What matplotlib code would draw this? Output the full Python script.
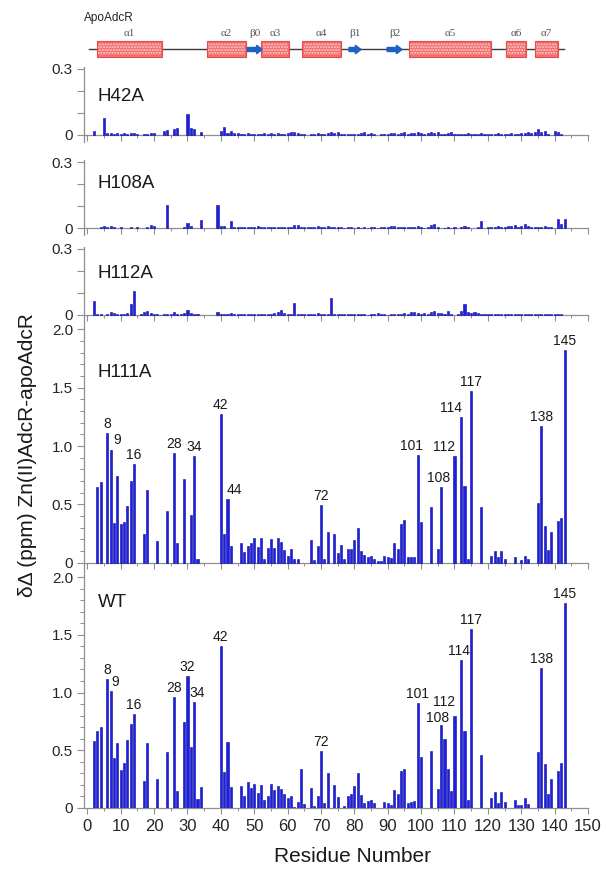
import matplotlib
matplotlib.use('Agg')
import matplotlib.pyplot as plt
import numpy as np
from matplotlib.patches import Rectangle, FancyArrow
from matplotlib.ticker import MultipleLocator

plt.rcParams['font.family'] = ['Liberation Sans', 'DejaVu Sans']

# ---------------- data ----------------
positions = list(range(1, 144))          # plotted position (residue number - 2)
RES_OFFSET = 2
x_ticks = list(range(0, 151, 10))

wt = [0, 0.58, 0.67, 0.70, 0, 1.12, 1.01, 0.43, 0.565, 0.33,
      0.385, 0.59, 0.73, 0.81, 0, 0, 0.235, 0.56, 0, 0,
      0.25, 0, 0, 0.48, 0, 0.96, 0.145, 0, 0.745, 1.145,
      0.525, 0.92, 0.075, 0.18, 0, 0, 0, 0, 0, 1.40,
      0.31, 0.57, 0.18, 0, 0, 0.19, 0.10, 0.225, 0.175, 0.205,
      0.13, 0.195, 0.065, 0.105, 0.21, 0.155, 0.19, 0.165, 0.12, 0.08,
      0.105, 0.01, 0.05, 0.335, 0.03, 0, 0.175, 0.015, 0.10, 0.49,
      0.04, 0.30, 0, 0.20, 0.09, 0, 0.015, 0.105, 0.12, 0.19,
      0.30, 0.11, 0.04, 0.06, 0.07, 0.04, 0, 0, 0.05, 0.045,
      0.02, 0.155, 0.12, 0.32, 0.34, 0.045, 0.05, 0.06, 0.91, 0.44,
      0, 0, 0.49, 0, 0.16, 0.715, 0.60, 0.335, 0.145, 0.80,
      0, 1.28, 0.67, 0.065, 1.55, 0, 0, 0.455, 0, 0,
      0.08, 0.135, 0.045, 0.135, 0.05, 0, 0, 0.065, 0.02, 0.02,
      0.08, 0.03, 0, 0, 0.48, 1.21, 0.38, 0.12, 0.25, 0,
      0.315, 0.39, 1.78]

h111a = [0, 0, 0.65, 0.69, 0, 1.11, 0.97, 0.34, 0.74, 0.33,
         0.35, 0.49, 0.70, 0.845, 0, 0, 0.245, 0.62, 0, 0,
         0.19, 0, 0, 0.44, 0, 0.94, 0.165, 0, 0.72, 0,
         0.405, 0.915, 0.035, 0, 0, 0, 0, 0, 0, 1.27,
         0.245, 0.545, 0.145, 0, 0, 0.165, 0.095, 0.145, 0.17, 0.21,
         0.135, 0.21, 0.035, 0.125, 0.20, 0.13, 0.21, 0.18, 0.11, 0.06,
         0.115, 0.03, 0.03, 0, 0, 0, 0.195, 0.02, 0.14, 0.495,
         0.035, 0.26, 0, 0.245, 0.085, 0.15, 0.03, 0.12, 0.115, 0.195,
         0.30, 0.10, 0.07, 0.045, 0.06, 0.035, 0.015, 0.015, 0.06, 0.045,
         0.04, 0.17, 0.12, 0.33, 0.365, 0.05, 0.045, 0.05, 0.92, 0.35,
         0, 0, 0.48, 0, 0.12, 0.645, 0, 0, 0, 0.915,
         0, 1.25, 0.66, 0.035, 1.47, 0, 0, 0.48, 0, 0,
         0.055, 0.10, 0.045, 0.10, 0.03, 0, 0, 0.045, 0, 0.02,
         0.055, 0.035, 0, 0, 0.51, 1.17, 0.315, 0.11, 0.26, 0,
         0.355, 0.385, 1.82]

h42a = [0, 0.020, 0, 0, 0.075, 0.010, 0.008, 0.006, 0.008, 0.005,
        0.008, 0.006, 0.007, 0.010, 0.004, 0, 0.004, 0.006, 0.008, 0.010,
        0, 0, 0.020, 0.022, 0, 0.025, 0.030, 0, 0, 0.095,
        0.030, 0.028, 0, 0.015, 0, 0, 0, 0, 0, 0.018,
        0.035, 0.010, 0.018, 0.008, 0.010, 0.006, 0.004, 0.008, 0.005, 0.006,
        0.003, 0.006, 0.010, 0.004, 0.008, 0.006, 0.008, 0.004, 0.005, 0.008,
        0.012, 0.015, 0.010, 0.004, 0.003, 0, 0.004, 0.006, 0.008, 0.006,
        0.004, 0.008, 0.012, 0.010, 0.012, 0.004, 0.006, 0.003, 0.005, 0.006,
        0.004, 0.010, 0.012, 0.006, 0.008, 0.004, 0, 0.006, 0.004, 0.003,
        0.008, 0.010, 0.006, 0.008, 0.012, 0.005, 0.008, 0.010, 0.012, 0.008,
        0.006, 0.010, 0.012, 0.008, 0.015, 0.006, 0.004, 0.008, 0.012, 0.004,
        0.003, 0.005, 0.006, 0.010, 0.004, 0.003, 0.005, 0.008, 0.004, 0.003,
        0.006, 0.005, 0.008, 0.004, 0.003, 0.006, 0.008, 0.005, 0.004, 0.008,
        0.010, 0.015, 0.008, 0.015, 0.028, 0.012, 0.020, 0.004, 0, 0.020,
        0.015, 0.004, 0]

h108a = [0, 0, 0, 0.006, 0.008, 0.006, 0.008, 0.005, 0, 0.005,
         0, 0, 0.003, 0, 0.003, 0, 0, 0.004, 0.015, 0.008,
         0, 0, 0, 0.105, 0, 0, 0, 0, 0.004, 0.022,
         0.008, 0, 0, 0.035, 0, 0, 0, 0, 0.103, 0.010,
         0.008, 0, 0.030, 0.004, 0.003, 0.005, 0.003, 0.004, 0.006, 0.003,
         0.008, 0.004, 0.003, 0.005, 0.006, 0.004, 0.003, 0.005, 0.006, 0.004,
         0.006, 0.012, 0.012, 0.005, 0.003, 0.004, 0.006, 0.005, 0.008, 0.006,
         0.005, 0.008, 0.006, 0.005, 0.004, 0.003, 0.002, 0.003, 0.004, 0.002,
         0.003, 0.002, 0.003, 0.002, 0.004, 0.003, 0.002, 0.004, 0.006, 0.004,
         0.008, 0.010, 0.006, 0.004, 0.003, 0.005, 0.004, 0.006, 0.010, 0.003,
         0.002, 0.004, 0.015, 0.017, 0.003, 0, 0.002, 0.003, 0.002, 0.004,
         0, 0.006, 0.010, 0.003, 0, 0, 0.004, 0.030, 0, 0.003,
         0.003, 0.005, 0.008, 0.004, 0.006, 0.008, 0.010, 0.015, 0.006, 0.008,
         0.020, 0.010, 0.006, 0.006, 0.004, 0.005, 0.010, 0.006, 0.004, 0,
         0.040, 0.020, 0.040]

h112a = [0, 0.065, 0.005, 0.003, 0, 0.003, 0.012, 0.008, 0.004, 0.003,
         0.004, 0.010, 0.050, 0.110, 0, 0.004, 0.015, 0.018, 0.010, 0.005,
         0.003, 0.002, 0.004, 0.003, 0.005, 0.012, 0.004, 0.003, 0.008, 0.022,
         0.010, 0.004, 0.003, 0, 0, 0, 0, 0, 0.015, 0.004,
         0.006, 0.005, 0.008, 0.006, 0.005, 0.004, 0.006, 0.005, 0.003, 0.004,
         0.006, 0.005, 0.004, 0.006, 0.003, 0.008, 0.015, 0.022, 0.010, 0.004,
         0.005, 0.055, 0.006, 0.004, 0.005, 0.004, 0.006, 0.004, 0.010, 0.005,
         0.003, 0.004, 0.078, 0.006, 0.005, 0.004, 0.003, 0.004, 0.003, 0.004,
         0.005, 0.003, 0.004, 0.002, 0.003, 0.004, 0.008, 0.006, 0.003, 0.002,
         0.003, 0.004, 0.006, 0.005, 0.008, 0.006, 0.012, 0.015, 0.010, 0.004,
         0.008, 0.004, 0.015, 0.020, 0.008, 0.010, 0.004, 0.020, 0.003, 0,
         0.004, 0.020, 0.050, 0.015, 0.010, 0.012, 0.008, 0.006, 0.004, 0.006,
         0.005, 0.003, 0.004, 0.006, 0.003, 0.005, 0.004, 0.006, 0.003, 0.004,
         0.006, 0.005, 0.003, 0.004, 0.006, 0.005, 0.004, 0.003, 0.004, 0.003,
         0.005, 0.003, 0]

wt_labels = [8, 9, 16, 28, 32, 34, 42, 72, 101, 108, 112, 114, 117, 138, 145]
h111a_labels = [8, 9, 16, 28, 34, 42, 44, 72, 101, 108, 112, 114, 117, 138, 145]

helix_names = ['α1', 'α2', 'α3', 'α4', 'α5', 'α6', 'α7']
helix_start = [2.9, 35.9, 52.1, 64.4, 96.4, 125.4, 134.1]
helix_end = [22.5, 47.6, 60.5, 76.0, 120.9, 131.4, 141.0]
strand_names = ['β0', 'β1', 'β2']
strand_start = [47.9, 78.4, 89.8]
strand_end = [52.4, 82.0, 94.3]

# ---------------- style ----------------
W, H = 606, 871
L_PX, R_PX = 84, 588
BAR = '#1f1fe0'
EDGE = '#0808a8'
GRAY = '#8f8f8f'
TXT = '#262626'

fig = plt.figure(figsize=(W / 100, H / 100), dpi=100)


def rect_for(zero_px, px_per_unit, ymin, ymax):
    top = zero_px - ymax * px_per_unit
    bot = zero_px - ymin * px_per_unit
    return [L_PX / W, 1 - bot / H, (R_PX - L_PX) / W, (bot - top) / H]


panels = [
    # name, values, zero px, px/unit, ylim, labels, label baseline px
    ('H42A', h42a, 135, 220, (-0.03, 0.31), None, 101, 'small'),
    ('H108A', h108a, 228, 220, (-0.03, 0.31), None, 188, 'small'),
    ('H112A', h112a, 315, 220, (-0.03, 0.31), None, 278, 'small'),
    ('H111A', h111a, 562.7, 116.7, (-0.07, 2.05), h111a_labels, 377, 'large'),
    ('WT', wt, 807.7, 115.2, (0, 2.05), wt_labels, 607, 'large'),
]

# (dx in data units, dy in points) nudges for crowded labels
nudges = {
    'H111A': {9: (1.9, 0), 44: (2.1, 0), 101: (-1.8, 0), 108: (-0.8, 0),
              112: (-3.1, 0), 114: (-2.9, 0)},
    'WT': {9: (1.4, 0), 34: (0.8, 0), 108: (-1.0, -1.0), 112: (-3.0, 3.5),
           114: (-0.6, 0)},
}

pos = np.array(positions)
for name, vals, zpx, ppu, ylim, labels, lab_px, kind in panels:
    ax = fig.add_axes(rect_for(zpx, ppu, *ylim))
    ax.set_facecolor('none')
    v = np.array(vals, dtype=float)
    m = v > 0
    ax.bar(pos[m], v[m], width=0.62, color=BAR, edgecolor=EDGE,
           linewidth=0.4, zorder=3)
    ax.set_xlim(-1, 150)
    ax.set_ylim(*ylim)
    for s in ['top', 'right']:
        ax.spines[s].set_visible(False)
    ax.spines['bottom'].set_position(('data', 0))
    for s in ['left', 'bottom']:
        ax.spines[s].set_color(GRAY)
        ax.spines[s].set_linewidth(0.9)
    ax.set_xticks(x_ticks)
    ax.xaxis.set_minor_locator(MultipleLocator(5))
    last = name == 'WT'
    ax.tick_params(axis='x', which='major', direction='out', length=4,
                   width=0.8, color=GRAY, labelbottom=last,
                   labelsize=12, labelcolor=TXT, pad=4)
    ax.tick_params(axis='x', which='minor', direction='out', length=2,
                   width=0.7, color=GRAY)
    if kind == 'small':
        ax.set_yticks([0, 0.1, 0.2, 0.3])
        ax.set_yticklabels(['0', '', '', '0.3'])
    else:
        ax.set_yticks([0, 0.5, 1.0, 1.5, 2.0])
        ax.set_yticklabels(['0', '0.5', '1.0', '1.5', '2.0'])
        ax.yaxis.set_minor_locator(MultipleLocator(0.1))
    ax.tick_params(axis='y', which='major', direction='out', length=5,
                   width=0.8, color=GRAY, labelsize=11, labelcolor=TXT, pad=3)
    ax.tick_params(axis='y', which='minor', direction='out', length=3,
                   width=0.7, color=GRAY)
    fig.text(98 / W, 1 - lab_px / H, name, fontsize=13.5, color='#1a1a1a',
             ha='left', va='baseline')
    if labels:
        nd = nudges.get(name, {})
        for res in labels:
            i = res - RES_OFFSET
            val = vals[i - 1]
            dx, dy = nd.get(res, (0, 0))
            ax.annotate(str(res), (i + dx, val), xytext=(0, 1.5 + dy),
                        textcoords='offset points', ha='center', va='bottom',
                        fontsize=10, color='#1a1a1a', zorder=5)

# ---------------- secondary structure strip ----------------
ss = fig.add_axes([L_PX / W, 1 - 64 / H, (R_PX - L_PX) / W, 64 / H])
ss.set_xlim(-1, 150)
ss.set_ylim(64, 0)
ss.axis('off')
ss.plot([0.6, 142.8], [49.5, 49.5], color='#3a3a3a', lw=1.0, zorder=1)
for nm, a, b in zip(helix_names, helix_start, helix_end):
    ss.add_patch(Rectangle((a, 41.5), b - a, 16, facecolor='#f26e6e',
                           edgecolor='#e04c4c', lw=0.8, zorder=2))
    ss.add_patch(Rectangle((a + 0.4, 43.5), b - a - 0.8, 12, fill=False,
                           hatch='......', edgecolor='#ffd0d0', lw=0, zorder=3))
    ss.text((a + b) / 2, 33, nm, ha='center', va='center', fontsize=8,
            color='#555555', family=['Liberation Serif', 'DejaVu Serif'])
for nm, a, b in zip(strand_names, strand_start, strand_end):
    ss.add_patch(FancyArrow(a, 49.5, b - a, 0, width=4, head_width=8.5,
                            head_length=1.7, length_includes_head=True,
                            color='#1f5fc8', zorder=4))
    ss.text((a + b) / 2, 33, nm, ha='center', va='center', fontsize=8,
            color='#555555', family=['Liberation Serif', 'DejaVu Serif'])
ss.text(-1, 18, 'ApoAdcR', ha='left', va='center', fontsize=8.5, color='#222222')

# ---------------- axis titles ----------------
fig.text(28 / W, 1 - 455 / H, 'δΔ (ppm) Zn(II)AdcR-apoAdcR', rotation=90,
         ha='center', va='center', fontsize=15, color='#1a1a1a')
fig.text(352 / W, 1 - 856 / H, 'Residue Number', ha='center', va='center',
         fontsize=15, color='#1a1a1a')

fig.savefig('out.png', dpi=100)
